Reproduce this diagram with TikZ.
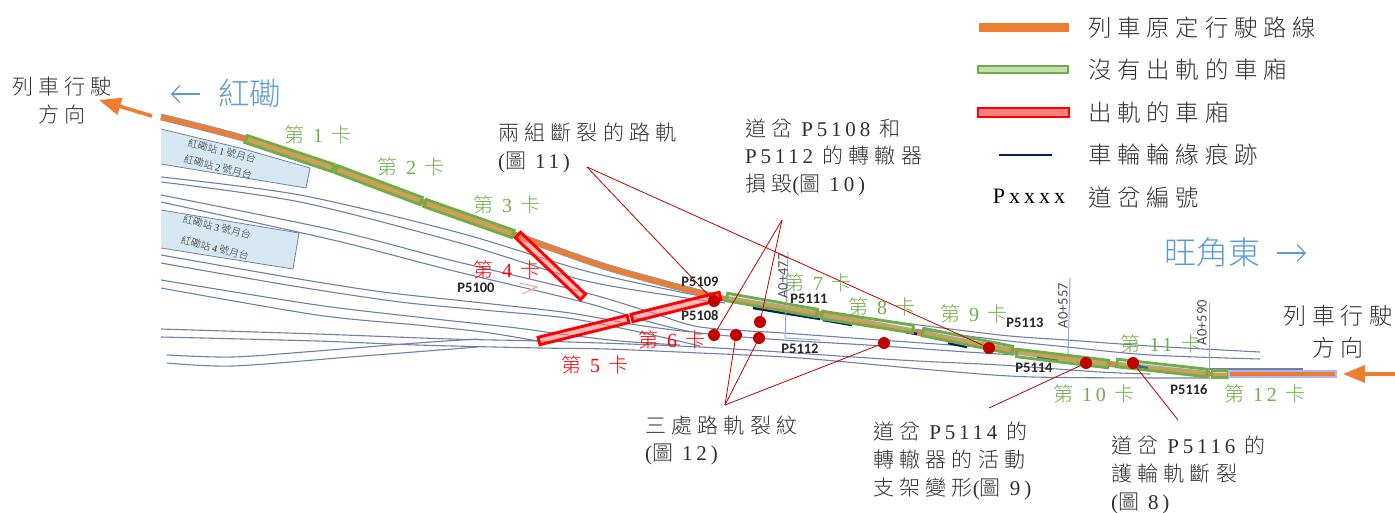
\documentclass[tikz,border=0pt]{standalone}
\usepackage{fontspec}
\usetikzlibrary{calc,arrows.meta}
\setmainfont[LetterSpace=18]{Liberation Serif}
\newfontfamily\cjk[LetterSpace=25]{Noto Sans CJK TC Light}
\newfontfamily\cjktight{Noto Sans CJK TC Light}
\newfontfamily\pfont{Carlito}
\newcommand\zh[1]{{\cjk #1}}
\definecolor{trackc}{HTML}{6F80A4}
\definecolor{okc}{HTML}{70AD47}
\definecolor{okfill}{HTML}{A9D18E}
\definecolor{badfill}{HTML}{FF8080}
\definecolor{routec}{HTML}{ED7D31}
\definecolor{leadc}{HTML}{C00000}
\definecolor{navyc}{HTML}{002060}
\definecolor{bluec}{HTML}{5B9BD5}
\definecolor{platc}{HTML}{D6E9F3}
\definecolor{chainc}{HTML}{8FAADC}
\definecolor{txtc}{HTML}{303030}
\tikzset{
 track/.style={draw=trackc,line width=1.1pt},
 plat/.style={draw=trackc,fill=platc,line width=0.8pt},
 okcar/.style={draw=okc,line width=2.8pt,fill=okfill,fill opacity=.4},
 badcar/.style={draw=red,line width=2.9pt,fill=badfill,fill opacity=.55},
 flange/.style={draw=navyc,line width=2.5pt},
 dot/.style={circle,fill=leadc,inner sep=0pt,minimum size=12pt},
 lead/.style={draw=leadc,line width=0.8pt},
 chain/.style={draw=chainc,line width=1pt},
 note/.style={anchor=north west,inner sep=0pt,align=left,text=txtc,font=\fontsize{21}{27.6}\selectfont},
 legtxt/.style={anchor=west,inner sep=0pt,text=txtc,font=\fontsize{23.4}{27}\selectfont},
 carok/.style={text=okc,inner sep=0pt,font=\fontsize{20}{24}\selectfont},
 carbad/.style={text=red,inner sep=0pt,font=\fontsize{20}{24}\selectfont},
 ptag/.style={inner sep=0pt,text=black!85,font=\pfont\bfseries\fontsize{14.5}{16}\selectfont},
 platlab/.style={inner sep=0pt,rotate=-14,text=black!80,font=\fontsize{10}{12}\selectfont},
 chlab/.style={inner sep=0pt,rotate=90,text=black!70,font=\pfont\fontsize{14.5}{16}\selectfont},
 dirarrow/.style={draw=routec,line width=3.6pt,-{Triangle[length=22pt,width=17pt]}},
 stnarrow/.style={draw=bluec,line width=1.2pt,-{Straight Barb[length=8pt,width=17pt]}},
}
\newcommand\car[3]{\draw[#1] ($(#2)!3.8pt!90:(#3)$) -- ($(#2)!3.8pt!-90:(#3)$) -- ($(#3)!3.8pt!90:(#2)$) -- ($(#3)!3.8pt!-90:(#2)$) -- cycle;}
\begin{document}
\begin{tikzpicture}[x=1pt,y=-1pt]
\useasboundingbox (0,0) rectangle (1395,512);
% platforms
\draw[plat] (161,129) -- (240,148) -- (310,168) -- (306,188) -- (161,164);
\draw[plat] (161,210) -- (299,233) -- (293,269) -- (161,248);
\node[platlab] (pl1) at (222,151) {\cjktight 紅磡站 {\rmfamily\addfontfeature{LetterSpace=0}1} 號月台};
\node[platlab] (pl2) at (218,167) {\cjktight 紅磡站 {\rmfamily\addfontfeature{LetterSpace=0}2} 號月台};
\node[platlab] (pl3) at (217,227) {\cjktight 紅磡站 {\rmfamily\addfontfeature{LetterSpace=0}3} 號月台};
\node[platlab] (pl4) at (215,248) {\cjktight 紅磡站 {\rmfamily\addfontfeature{LetterSpace=0}4} 號月台};
% tracks
\draw[track] plot[smooth,tension=.5] coordinates {(161,177) (300,195) (460,233) (582,270) (680,292) (722,299)};
\draw[track] plot[smooth,tension=.5] coordinates {(161,182) (300,202) (460,243) (582,280) (680,297) (725,303)};
\draw[track] plot[smooth,tension=.5] coordinates {(161,195) (333,230) (450,260) (583,292) (650,312) (700,327) (783,333) (880,340) (980,347)};
\draw[track] plot[smooth,tension=.5] coordinates {(161,202) (333,240) (450,270) (583,302) (650,322) (700,333) (783,340) (867,345) (967,352) (1017,355)};
\draw[track] plot[smooth,tension=.5] coordinates {(161,255) (293,278) (383,292) (483,303) (570,313) (637,325) (690,332)};
\draw[track] plot[smooth,tension=.5] coordinates {(161,263) (293,286) (400,302) (483,310) (567,318) (630,330) (700,346)};
\draw[track] plot[smooth,tension=.5] coordinates {(161,280) (317,305) (417,317) (517,328) (560,334) (620,341) (680,345)};
\draw[track] plot[smooth,tension=.5] coordinates {(161,288) (317,315) (417,325) (483,332) (538,341)};
\draw[track] plot[smooth,tension=.5] coordinates {(161,329) (317,334) (450,339) (538,341) (700,347) (900,360) (1000,365) (1100,372) (1150,374)};
\draw[track] plot[smooth,tension=.5] coordinates {(161,337) (317,341) (417,345) (540,348) (607,349) (700,353) (800,358) (933,370) (1033,377) (1210,378)};
\draw[track] plot[smooth,tension=.5] coordinates {(167,355) (233,357) (317,351) (417,343) (478,339)};
\draw[track] plot[smooth,tension=.5] coordinates {(167,363) (233,366) (350,357) (478,347)};
\draw[track] plot[smooth,tension=.5] coordinates {(880,320) (1000,335) (1067,340) (1150,346) (1260,352)};
\draw[track] plot[smooth,tension=.5] coordinates {(905,328) (1000,340) (1067,347) (1150,355) (1260,359)};
\draw[track] (1209,369) -- (1303,369);
% route
\draw[trackc!80,line width=6.8pt] plot[smooth,tension=.5] coordinates {(161,117) (246,139) (336,169) (425,203) (515,235) (600,265) (663,283) (720,298)};
\draw[routec,line width=5pt] plot[smooth,tension=.5] coordinates {(161,117) (246,139) (336,169) (425,203) (515,235) (600,265) (663,283) (720,298)};
\draw[trackc!80,line width=6pt] plot[smooth,tension=.5] coordinates {(720,298) (820,314) (920,333) (1015,351) (1110,364) (1210,374)};
\draw[routec,line width=3.8pt] plot[smooth,tension=.5] coordinates {(720,298) (820,314) (920,333) (1015,351) (1110,364) (1210,374) (1228,374)};
% flange marks
\draw[flange] (753,308) -- (820,319);
\draw[flange] (823,320) -- (852,325);
\draw[flange] (906,332) -- (917,334);
\draw[flange] (948,343) -- (967,347);
\draw[flange] (1037,358) -- (1058,361);
\draw[flange] (1137,366) -- (1148,368);
% chainage
\draw[chain] (788,252) -- (785,338) -- (820,340);
\draw[chain] (1070,278) -- (1068,357);
\draw[chain] (1209,303) -- (1209,372);
\node[chlab] (c1) at (783,276) {A0+477};
\node[chlab] (c2) at (1063,305.5) {A0+557};
\node[chlab] (c3) at (1202,322.5) {A0+590};
% cars
\car{okcar}{246,139}{333,168}
\car{okcar}{336,169}{421,201}
\car{okcar}{425,203}{513,234}
\car{badcar}{518,235}{583,297}
\car{badcar}{539,341}{628,319}
\car{badcar}{632,318}{720,296}
\car{okcar}{727,297}{817,313}
\car{okcar}{822,315}{913,329}
\car{okcar}{923,332}{1012,350}
\car{okcar}{1017,353}{1108,364}
\car{okcar}{1117,363}{1207,373}
\car{okcar}{1212,374}{1228,374}
\draw[draw=blue!20!chainc!60,fill=routec,line width=1.6pt] (1229,371) rectangle (1336,377);
\draw[draw=red!35,line width=1.2pt] (520,283) -- (537,287) -- (522,294);
% dots
\node[dot] (d1) at (714,301) {};
\node[dot] (d2) at (714,335) {};
\node[dot] (d3) at (736,335) {};
\node[dot] (d4) at (759,338) {};
\node[dot] (d5) at (760,322) {};
\node[dot] (d6) at (884,343) {};
\node[dot] (d7) at (989,348) {};
\node[dot] (d8) at (1086,363) {};
\node[dot] (d9) at (1133,363) {};
% leaders
\coordinate (la) at (587,167);
\coordinate (lb) at (782,220);
\coordinate (lc) at (725,405);
\coordinate (ld) at (989,408);
\coordinate (le) at (1178,420);
\draw[lead] (la) -- (d1.center);
\draw[lead] (la) -- (d7.center);
\draw[lead] (lb) -- (d2.center);
\draw[lead] (lb) -- (d5.center);
\draw[lead] (lc) -- (d3.center);
\draw[lead] (lc) -- (d4.center);
\draw[lead] (lc) -- (d6.center);
\draw[lead] (ld) -- (d8.center);
\draw[lead] (le) -- (d9.center);
% direction arrows
\coordinate (al0) at (152,116);
\coordinate (al1) at (99,100);
\draw[dirarrow] (al0) -- (al1);
\coordinate (ar0) at (1395,374);
\coordinate (ar1) at (1343,374);
\draw[dirarrow] (ar0) -- (ar1);
\coordinate (sl0) at (200,94);
\coordinate (sl1) at (171,94);
\draw[stnarrow] (sl0) -- (sl1);
\coordinate (sr0) at (1277,253);
\coordinate (sr1) at (1306,253);
\draw[stnarrow] (sr0) -- (sr1);
% station names
\node[inner sep=0pt,text=bluec,font=\fontsize{31.5}{34}\selectfont] (s1) at (249.5,93) {\cjktight 紅磡};
\node[inner sep=0pt,text=bluec,font=\fontsize{32}{34}\selectfont] (s2) at (1212,252) {\cjktight 旺角東};
% direction texts
\node[inner sep=0pt,align=center,text=txtc,font=\fontsize{21}{28}\selectfont] (t1) at (62,101) {\zh{列車行駛}\\\zh{方向}};
\node[inner sep=0pt,align=center,text=txtc,font=\fontsize{23}{32}\selectfont] (t2) at (1338,332) {\zh{列車行駛}\\\zh{方向}};
% notes
\node[note] (n1) at (498,123) {\zh{兩組斷裂的路軌}\\(\zh{圖} 11)};
\node[note] (n2) at (745,118.5) {\zh{道岔} P5108 \zh{和}\\P5112 \zh{的轉轍器}\\\zh{損毀}(\zh{圖} 10)};
\node[note] (n3) at (645,415.5) {\zh{三處路軌裂紋}\\(\zh{圖} 12)};
\node[note] (n4) at (873,422) {\zh{道岔} P5114 \zh{的}\\\zh{轉轍器的活動}\\\zh{支架變形}(\zh{圖} 9)};
\node[note] (n5) at (1111,436) {\zh{道岔} P5116 \zh{的}\\\zh{護輪軌斷裂}\\(\zh{圖} 8)};
% car labels
\node[carok] (k1) at (318,135) {\zh{第} 1 \zh{卡}};
\node[carok] (k2) at (411,167) {\zh{第} 2 \zh{卡}};
\node[carok] (k3) at (507,205) {\zh{第} 3 \zh{卡}};
\node[carbad] (k4) at (507,270) {\zh{第} 4 \zh{卡}};
\node[carbad] (k5) at (595,365) {\zh{第} 5 \zh{卡}};
\node[carbad] (k6) at (672,340) {\zh{第} 6 \zh{卡}};
\node[carok] (k7) at (818,283) {\zh{第} 7 \zh{卡}};
\node[carok] (k8) at (882,307) {\zh{第} 8 \zh{卡}};
\node[carok] (k9) at (974,314) {\zh{第} 9 \zh{卡}};
\node[carok] (k10) at (1094,394) {\zh{第} 10 \zh{卡}};
\node[carok] (k11) at (1161,344) {\zh{第} 11 \zh{卡}};
\node[carok] (k12) at (1265,394) {\zh{第} 12 \zh{卡}};
% switch tags
\node[ptag] (p1) at (700,282) {P5109};
\node[ptag] (p2) at (476,288) {P5100};
\node[ptag] (p3) at (700,316) {P5108};
\node[ptag] (p4) at (809,299) {P5111};
\node[ptag] (p5) at (800,349) {P5112};
\node[ptag] (p6) at (1025,323) {P5113};
\node[ptag] (p7) at (1034,368) {P5114};
\node[ptag] (p8) at (1189,390) {P5116};
% legend
\fill[routec] (979,23) rectangle (1069,32);
\draw[draw=okc,fill=okfill!70,line width=2.4pt] (978,66) rectangle (1068,73);
\draw[draw=red,fill=badfill,line width=2.6pt] (978,108) rectangle (1069,117);
\draw[navyc,line width=2.6pt] (999,155) -- (1052,155);
\node[inner sep=0pt,text=black,font=\fontsize{22}{25}\selectfont] (lp) at (1029,196) {Pxxxx};
\node[legtxt] (l1) at (1088,28) {\zh{列車原定行駛路線}};
\node[legtxt] (l2) at (1088,70) {\zh{沒有出軌的車廂}};
\node[legtxt] (l3) at (1088,113) {\zh{出軌的車廂}};
\node[legtxt] (l4) at (1088,155) {\zh{車輪輪緣痕跡}};
\node[legtxt] (l5) at (1088,198) {\zh{道岔編號}};
\end{tikzpicture}
\end{document}
